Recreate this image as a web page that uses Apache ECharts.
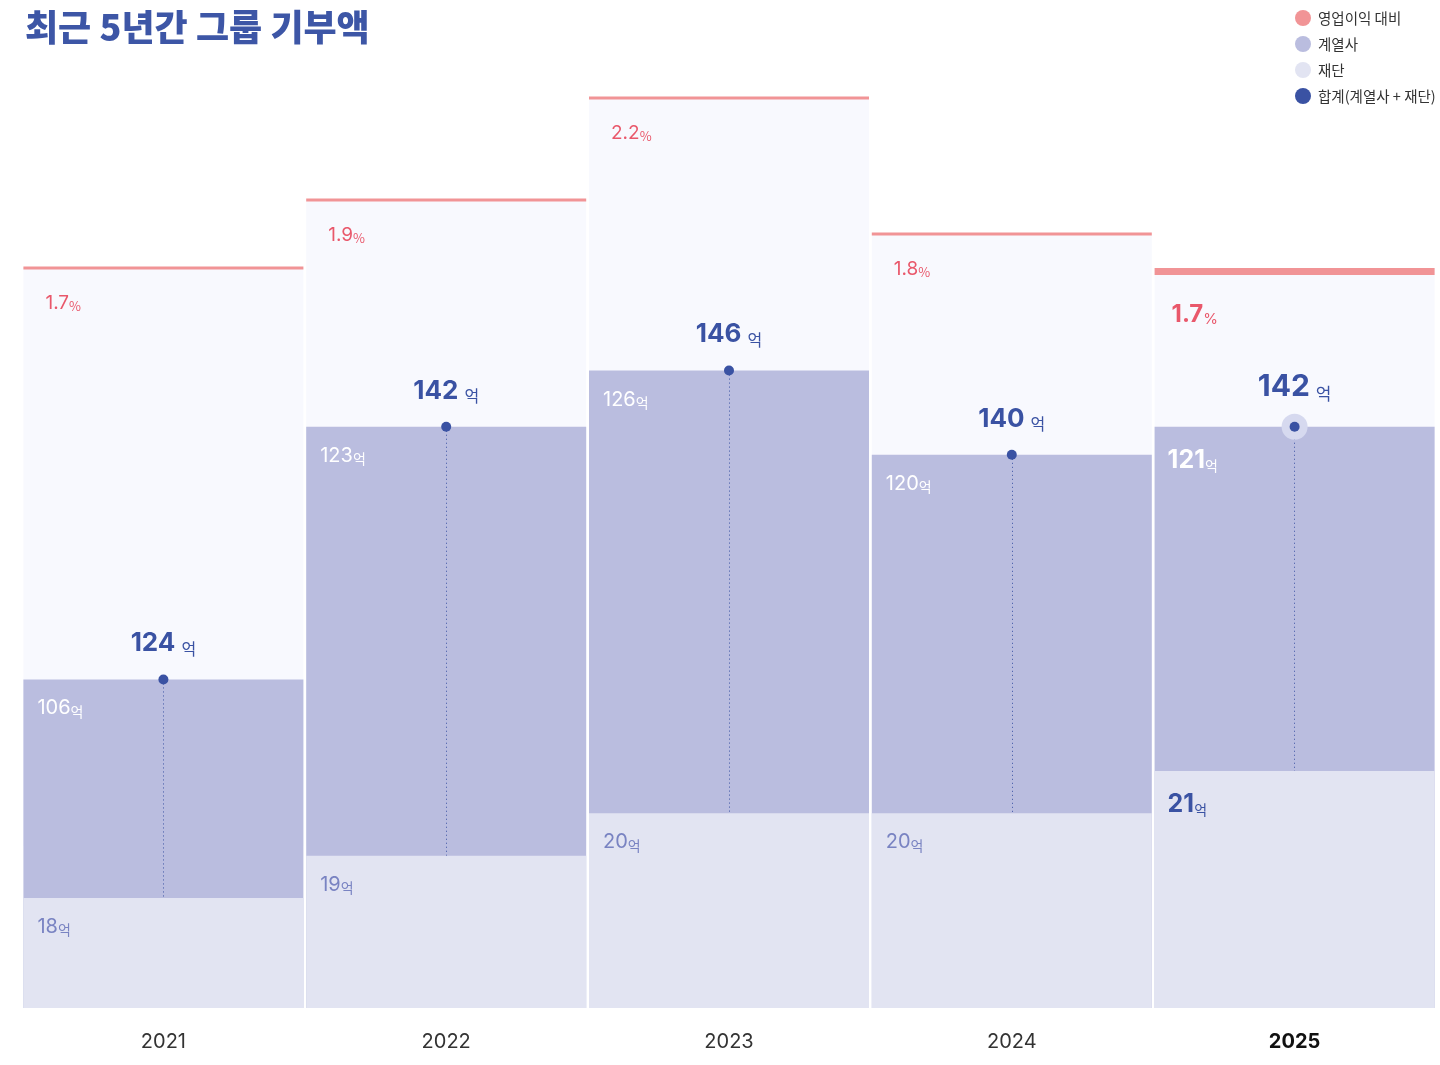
<!DOCTYPE html>
<html>
<head>
<meta charset="utf-8">
<script src="https://cdn.jsdelivr.net/npm/echarts@6/dist/echarts.min.js"></script>
<style>
  html, body { margin: 0; padding: 0; background: #fff; }
  #chart { width: 1440px; height: 1065px; }
</style>
</head>
<body>
<div id="chart"></div>
<script>
// 최근 5년간 그룹 기부액 (단위: 억원, 영업이익 대비 %)
const years = ['2021', '2022', '2023', '2024', '2025'];
const affiliates = [106, 123, 126, 120, 121];
const foundations = [18, 19, 20, 20, 21];
const totals = [124, 142, 146, 140, 142];
const ratios = [1.7, 1.9, 2.2, 1.8, 1.7];

const FONT = 'Inter, "Noto Sans CJK KR", sans-serif';
const KR = '"Noto Sans CJK KR", sans-serif';
const BLUE = '#3a52a3';
const PINK_LINE = '#f19496';
const PINK_TEXT = '#e9586b';
const AFF = '#babddf';
const FND = '#e2e4f2';
const BG = '#f8f9fe';
const last = years.length - 1;
const BAR_W = 280;

const chart = echarts.init(document.getElementById('chart'), null, { renderer: 'canvas' });

const ratioBars = ratios.map((v, i) => i === last ? {
  value: v,
  label: { position: [17, 44], rich: {
    n: { fontFamily: FONT, fontSize: 24, fontWeight: 'bold', color: PINK_TEXT, verticalAlign: 'bottom', lineHeight: 30 },
    u: { fontFamily: FONT, fontSize: 15, color: PINK_TEXT, verticalAlign: 'bottom', lineHeight: 27 },
  } },
} : v);

const ratioLines = ratios.map((v, i) => i === last ? { value: v, symbolSize: [BAR_W, 7], symbolOffset: [0, 3.5] } : v);

const totalBars = totals.map((v, i) => i === last ? {
  value: v,
  label: { position: [13, 31], rich: {
    n: { fontFamily: FONT, fontSize: 25, fontWeight: 'bold', color: '#fff', verticalAlign: 'bottom', lineHeight: 30 },
    u: { fontFamily: KR, fontSize: 14, color: '#fff', verticalAlign: 'bottom', lineHeight: 27 },
  } },
} : v);

const foundationBars = foundations.map((v, i) => i === last ? {
  value: v,
  label: { position: [13, 31], rich: {
    n: { fontFamily: FONT, fontSize: 25, fontWeight: 'bold', color: BLUE, verticalAlign: 'bottom', lineHeight: 30 },
    u: { fontFamily: KR, fontSize: 14, color: BLUE, verticalAlign: 'bottom', lineHeight: 27 },
  } },
} : v);

const totalDots = totals.map((v, i) => i === last ? {
  value: v,
  label: { distance: 20, rich: {
    n: { fontFamily: FONT, fontSize: 30, fontWeight: 'bold', color: BLUE, verticalAlign: 'bottom', lineHeight: 36 },
    u: { fontFamily: KR, fontSize: 17, color: BLUE, verticalAlign: 'bottom', lineHeight: 32, padding: [0, 0, 0, 6] },
  } },
} : v);

const halo = totals.map((v, i) => i === last ? v : '-');

const numRich = (color, size, usize) => ({
  n: { fontFamily: FONT, fontSize: size, color, verticalAlign: 'bottom', lineHeight: size + 4 },
  u: { fontFamily: KR, fontSize: usize, color, verticalAlign: 'bottom', lineHeight: size + 2 },
});

chart.setOption({
  animation: false,
  backgroundColor: '#fff',
  title: {
    text: '최근 5년간 그룹 기부액',
    left: 20,
    top: 4,
    textStyle: { fontFamily: KR, fontSize: 36, fontWeight: 900, color: '#3d56a6' },
  },
  legend: {
    orient: 'vertical',
    left: 1290,
    top: 5,
    itemWidth: 16,
    itemHeight: 16,
    itemGap: 10,
    icon: 'circle',
    selectedMode: false,
    textStyle: { fontFamily: KR, fontSize: 14.5, color: '#333', padding: [0, 0, 0, 2] },
    data: [
      { name: '영업이익 대비', itemStyle: { color: PINK_LINE } },
      { name: '계열사', itemStyle: { color: AFF } },
      { name: '재단', itemStyle: { color: FND } },
      { name: '합계(계열사 + 재단)', itemStyle: { color: BLUE } },
    ],
  },
  grid: { left: 22, right: 4, top: 94, bottom: 57 },
  xAxis: {
    type: 'category',
    data: years.map((y, i) => i === last ? { value: y, textStyle: { fontWeight: 'bold', color: '#111' } } : y),
    axisLine: { show: false },
    axisTick: { show: false },
    axisLabel: { fontFamily: FONT, fontSize: 20, color: '#333', margin: 24 },
  },
  yAxis: [
    // 영업이익 대비 (%)
    { type: 'value', min: -0.476, max: 2.212, show: false },
    // 합계 (억)
    { type: 'value', min: 100.6, max: 165.7, show: false },
    // 재단 (억)
    { type: 'value', min: 15.4, max: 37.0, show: false },
  ],
  series: [
    {
      name: '영업이익 대비',
      type: 'bar',
      yAxisIndex: 0,
      barWidth: BAR_W,
      barGap: '-100%',
      z: 1,
      silent: true,
      itemStyle: { color: BG },
      label: {
        show: true,
        position: [22, 33],
        verticalAlign: 'middle',
        formatter: (p) => `{n|${p.value.toFixed(1)}}{u|%}`,
        rich: numRich(PINK_TEXT, 19, 13),
      },
      data: ratioBars,
    },
    {
      name: '계열사',
      type: 'bar',
      yAxisIndex: 1,
      barWidth: BAR_W,
      barGap: '-100%',
      z: 2,
      silent: true,
      itemStyle: { color: AFF },
      label: {
        show: true,
        position: [14, 27],
        verticalAlign: 'middle',
        formatter: (p) => `{n|${affiliates[p.dataIndex]}}{u|억}`,
        rich: numRich('#fff', 20, 14),
      },
      data: totalBars,
    },
    {
      name: '재단',
      type: 'bar',
      yAxisIndex: 2,
      barWidth: BAR_W,
      barGap: '-100%',
      z: 4,
      silent: true,
      itemStyle: { color: FND },
      label: {
        show: true,
        position: [14, 27],
        verticalAlign: 'middle',
        formatter: (p) => `{n|${foundations[p.dataIndex]}}{u|억}`,
        rich: numRich('#7983c2', 20, 14),
      },
      data: foundationBars,
    },
    {
      name: '영업이익 대비',
      type: 'scatter',
      yAxisIndex: 0,
      symbol: 'rect',
      symbolSize: [BAR_W, 3],
      z: 3,
      silent: true,
      itemStyle: { color: PINK_LINE, opacity: 1 },
      data: ratioLines,
    },
    {
      name: 'halo',
      type: 'scatter',
      yAxisIndex: 1,
      symbolSize: 26,
      z: 5,
      silent: true,
      itemStyle: { color: '#d6d9ef', opacity: 1 },
      data: halo,
    },
    {
      name: '합계(계열사 + 재단)',
      type: 'scatter',
      yAxisIndex: 1,
      symbolSize: 10,
      z: 6,
      silent: true,
      itemStyle: { color: BLUE, opacity: 1 },
      label: {
        show: true,
        position: 'top',
        distance: 18,
        formatter: (p) => `{n|${p.value}}{u|억}`,
        rich: {
          n: { fontFamily: FONT, fontSize: 26, fontWeight: 'bold', color: BLUE, verticalAlign: 'bottom', lineHeight: 32 },
          u: { fontFamily: KR, fontSize: 16, color: BLUE, verticalAlign: 'bottom', lineHeight: 29, padding: [0, 0, 0, 6] },
        },
      },
      markLine: {
        silent: true,
        symbol: 'none',
        z: 3,
        label: { show: false },
        lineStyle: { color: BLUE, width: 1, type: [1, 3], opacity: 1 },
        data: totals.map((v, i) => [
          { coord: [i, v] },
          { coord: [i, 100.6] },
        ]),
      },
      data: totalDots,
    },
  ],
});
</script>
</body>
</html>
